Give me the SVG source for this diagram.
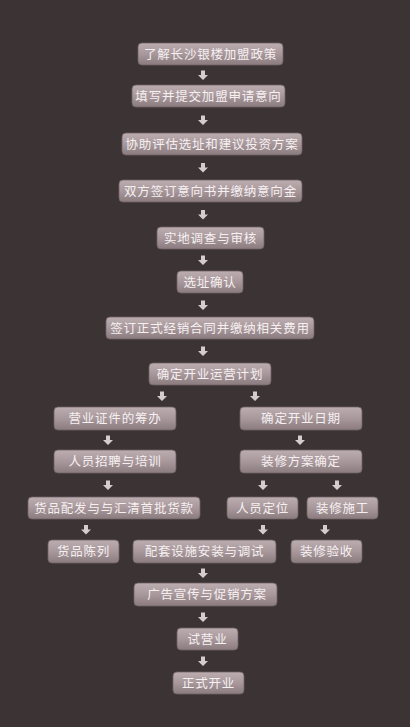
<svg xmlns="http://www.w3.org/2000/svg" xmlns:xlink="http://www.w3.org/1999/xlink" width="410" height="727" viewBox="0 0 410 727">
<defs>
<linearGradient id="g" x1="0" y1="0" x2="0" y2="1">
<stop offset="0" stop-color="#bcadb1"/>
<stop offset="0.5" stop-color="#a8989c"/>
<stop offset="1" stop-color="#8a7b7f"/>
</linearGradient>
<path id="arr" d="M-2,0 h4 v4.5 h3 l-5,5 l-5,-5 h3 z"/>
<style>
.b{fill:url(#g);stroke:#6f6366;stroke-width:0.8}
.t{font-family:"Noto Sans CJK SC","Noto Sans",sans-serif;font-size:12.5px;fill:#f6f0f1;text-anchor:middle;letter-spacing:0.8px}
.a{fill:#d4cccd}
</style>
</defs>
<rect width="410" height="727" fill="#3b3334"/>
<g id="connectors" class="a">
<use xlink:href="#arr" x="203" y="70.5"/>
<use xlink:href="#arr" x="203" y="115.5"/>
<use xlink:href="#arr" x="203" y="163"/>
<use xlink:href="#arr" x="203" y="210"/>
<use xlink:href="#arr" x="203" y="255.5"/>
<use xlink:href="#arr" x="203" y="300.5"/>
<use xlink:href="#arr" x="203" y="346.5"/>
<use xlink:href="#arr" x="162" y="391.5"/>
<use xlink:href="#arr" x="255" y="391.5"/>
<use xlink:href="#arr" x="108" y="435.5"/>
<use xlink:href="#arr" x="300" y="435.5"/>
<use xlink:href="#arr" x="108" y="480.5"/>
<use xlink:href="#arr" x="263" y="480.5"/>
<use xlink:href="#arr" x="337" y="480.5"/>
<use xlink:href="#arr" x="86" y="525"/>
<use xlink:href="#arr" x="263" y="525"/>
<use xlink:href="#arr" x="325" y="525"/>
<use xlink:href="#arr" x="203" y="568.5"/>
<use xlink:href="#arr" x="203" y="612.5"/>
<use xlink:href="#arr" x="203" y="656.5"/>
</g>
<g id="n1"><rect class="b" x="138" y="43" width="145" height="22" rx="4"/><text class="t" x="210.5" y="58.5">了解长沙银楼加盟政策</text></g>
<g id="n2"><rect class="b" x="132" y="85" width="153" height="22" rx="4"/><text class="t" x="208.5" y="100.5">填写并提交加盟申请意向</text></g>
<g id="n3"><rect class="b" x="122" y="133" width="180" height="22" rx="4"/><text class="t" x="212" y="148.5">协助评估选址和建议投资方案</text></g>
<g id="n4"><rect class="b" x="119" y="180" width="183" height="22" rx="4"/><text class="t" x="210.5" y="195.5">双方签订意向书并缴纳意向金</text></g>
<g id="n5"><rect class="b" x="157" y="227" width="107" height="22" rx="4"/><text class="t" x="210.5" y="242.5">实地调查与审核</text></g>
<g id="n6"><rect class="b" x="177" y="271" width="66" height="22" rx="4"/><text class="t" x="210" y="286.5">选址确认</text></g>
<g id="n7"><rect class="b" x="106" y="317" width="208" height="22" rx="4"/><text class="t" x="210" y="332.5">签订正式经销合同并缴纳相关费用</text></g>
<g id="n8"><rect class="b" x="149" y="363" width="122" height="22" rx="4"/><text class="t" x="210" y="378.5">确定开业运营计划</text></g>
<g id="n9"><rect class="b" x="54" y="407" width="122" height="23" rx="4"/><text class="t" x="115" y="423">营业证件的筹办</text></g>
<g id="n10"><rect class="b" x="240" y="407" width="122" height="23" rx="4"/><text class="t" x="301" y="423">确定开业日期</text></g>
<g id="n11"><rect class="b" x="54" y="450" width="122" height="23" rx="4"/><text class="t" x="115" y="466">人员招聘与培训</text></g>
<g id="n12"><rect class="b" x="240" y="450" width="122" height="23" rx="4"/><text class="t" x="301" y="466">装修方案确定</text></g>
<g id="n13"><rect class="b" x="28" y="497" width="172" height="22" rx="4"/><text class="t" x="114" y="512.5">货品配发与与汇清首批货款</text></g>
<g id="n14"><rect class="b" x="227" y="497" width="71" height="22" rx="4"/><text class="t" x="262.5" y="512.5">人员定位</text></g>
<g id="n15"><rect class="b" x="307" y="497" width="71" height="22" rx="4"/><text class="t" x="342.5" y="512.5">装修施工</text></g>
<g id="n16"><rect class="b" x="48" y="540" width="71" height="23" rx="4"/><text class="t" x="83.5" y="556">货品陈列</text></g>
<g id="n17"><rect class="b" x="133" y="540" width="143" height="23" rx="4"/><text class="t" x="204.5" y="556">配套设施安装与调试</text></g>
<g id="n18"><rect class="b" x="291" y="540" width="71" height="23" rx="4"/><text class="t" x="326.5" y="556">装修验收</text></g>
<g id="n19"><rect class="b" x="134" y="583" width="143" height="23" rx="4"/><text class="t" x="207" y="599">广告宣传与促销方案</text></g>
<g id="n20"><rect class="b" x="177" y="628" width="61" height="22" rx="4"/><text class="t" x="207.5" y="643.5">试营业</text></g>
<g id="n21"><rect class="b" x="173" y="672" width="71" height="22" rx="4"/><text class="t" x="208.5" y="687.5">正式开业</text></g>
</svg>
